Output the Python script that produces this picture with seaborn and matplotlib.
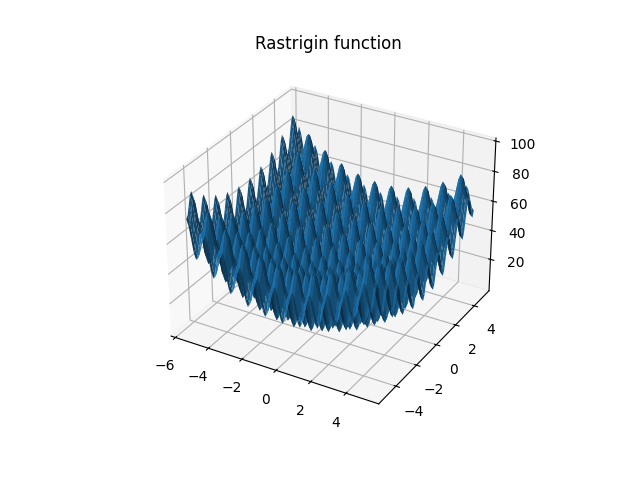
import numpy as np
import matplotlib
matplotlib.use('Agg')
import matplotlib.pyplot as plt
import seaborn as sns

# one half of the edge profile, centre out to the rim
half_pos = [0, 0.125, 0.25, 0.375, 0.5, 0.625, 0.75, 0.875, 1, 1.125, 1.25, 1.375, 1.5, 1.625,
            1.75, 1.875, 2, 2.125, 2.25, 2.375, 2.5, 2.625, 2.75, 2.875, 3, 3.125, 3.25, 3.375,
            3.5, 3.625, 3.75, 3.875, 4, 4.125, 4.25, 4.375, 4.5, 4.625, 4.75, 4.875, 5, 5.125]
half_height = [0, 2.94, 10.06, 17.21, 20.25, 17.46, 10.56, 3.69, 1, 4.19, 11.56, 18.96, 22.25, 19.71,
               13.06, 6.45, 4, 7.45, 15.06, 22.71, 26.25, 23.96, 17.56, 11.19, 9, 12.69, 20.56, 28.46,
               32.25, 30.21, 24.06, 17.94, 16, 19.94, 28.06, 36.21, 40.25, 38.46, 32.56, 26.69, 25, 29.19]
# the x side runs a little further out on the left and stops at 5 on the right
rim_pos = [5.25, 5.375, 5.5]
rim_height = [37.56, 45.96, 50.25]
x_ticks = [-6, -4, -2, 0, 2, 4]
y_ticks = [-4, -2, 0, 2, 4]
z_ticks = [20, 40, 60, 80, 100]

left_pos = [-p for p in (half_pos + rim_pos)[:0:-1]]
left_height = (half_height + rim_height)[:0:-1]
x_pos = np.array(left_pos + half_pos[:-1])
x_height = np.array(left_height + half_height[:-1])
# y stops at -5 on the near side
y_pos = np.array([-p for p in half_pos[-2:0:-1]] + half_pos)
y_height = np.array(half_height[-2:0:-1] + half_height)
X, Y = np.meshgrid(x_pos, y_pos)
Z = x_height[None, :] + y_height[:, None]

sns.reset_orig()
color = sns.color_palette('tab10')[0]

fig = plt.figure(figsize=(6.4, 4.8), dpi=100)
ax = fig.add_subplot(projection='3d')
ax.plot_surface(X, Y, Z, rstride=1, cstride=1, color=color)
ax.set_xlim(-6.27, 5.82)
ax.set_ylim(-5.63, 5.63)
ax.set_zlim(-2.1, 102.0)
ax.set_xticks(x_ticks)
ax.set_yticks(y_ticks)
ax.set_zticks(z_ticks)
ax.set_title('Rastrigin function')
fig.savefig('out.png', dpi=100)
